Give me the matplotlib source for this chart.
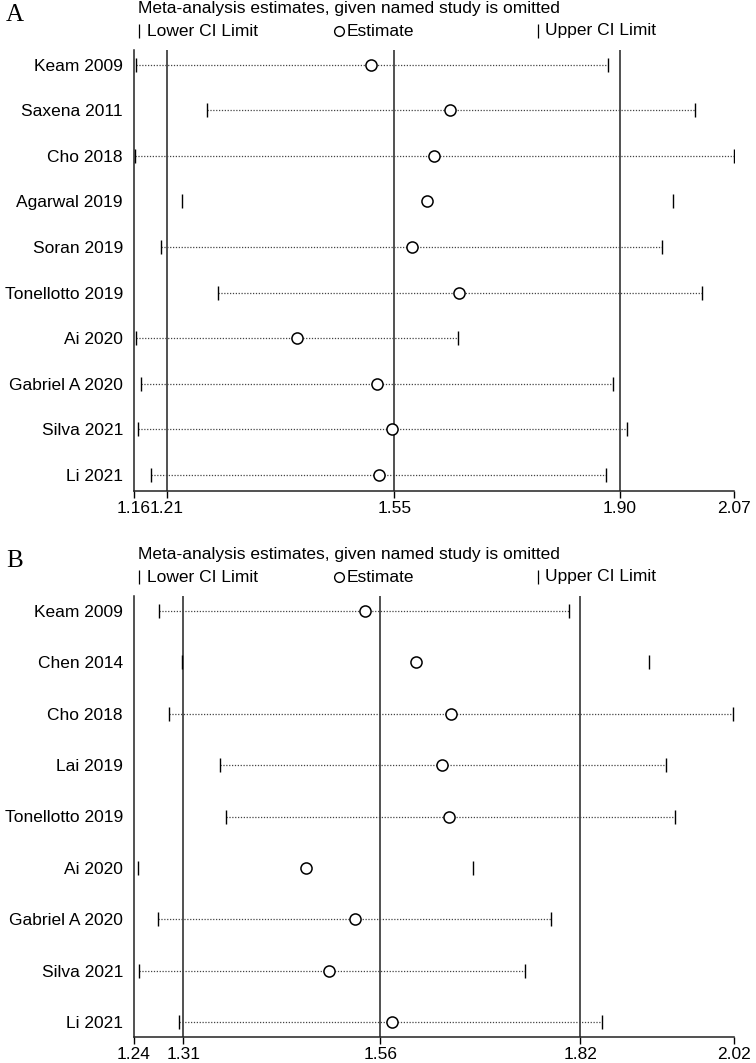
import matplotlib
matplotlib.use("Agg")
import matplotlib.pyplot as plt
from matplotlib.lines import Line2D

plt.rcParams['font.family'] = ['Liberation Sans', 'DejaVu Sans']

# panel A data
studies_a = ["Keam 2009", "Saxena 2011", "Cho 2018", "Agarwal 2019", "Soran 2019",
             "Tonellotto 2019", "Ai 2020", "Gabriel A 2020", "Silva 2021", "Li 2021"]
est_a = [1.519, 1.639, 1.615, 1.605, 1.581, 1.653, 1.407, 1.529, 1.552, 1.532]
low_a = [1.163, 1.270, 1.161, 1.233, 1.201, 1.287, 1.163, 1.170, 1.166, 1.186]
up_a = [1.879, 2.011, 2.070, 1.978, 1.961, 2.021, 1.652, 1.887, 1.907, 1.876]
dots_a = [True, True, True, False, True, True, True, True, True, True]
overall_a = [1.21, 1.555, 1.897]
range_a = [1.16, 2.07]
ticklabels_a = ["1.16", "1.21", "1.55", "1.90", "2.07"]

# panel B data
studies_b = ["Keam 2009", "Chen 2014", "Cho 2018", "Lai 2019", "Tonellotto 2019",
             "Ai 2020", "Gabriel A 2020", "Silva 2021", "Li 2021"]
est_b = [1.540, 1.606, 1.652, 1.640, 1.649, 1.463, 1.527, 1.494, 1.575]
low_b = [1.272, 1.302, 1.286, 1.352, 1.359, 1.245, 1.271, 1.247, 1.299]
up_b = [1.806, 1.909, 2.019, 1.931, 1.943, 1.681, 1.782, 1.748, 1.849]
dots_b = [True, False, True, True, True, False, True, True, True]
overall_b = [1.304, 1.56, 1.82]
range_b = [1.24, 2.02]
ticklabels_b = ["1.24", "1.31", "1.56", "1.82", "2.02"]

W, H = 756, 1063
fig = plt.figure(figsize=(W / 100, H / 100), dpi=100)
FS = 12.5


def fy(py):
    return 1 - py / H


def panel(letter, top_px, studies, est, low, up, dots, overall, xr, ticklabels,
          pad_top, pad_bot, ax_top, ax_bot):
    # header
    fig.text(6 / W, fy(top_px + 6), letter, family='Liberation Serif', fontsize=18,
             va='center', ha='left')
    fig.text(138 / W, fy(top_px), "Meta-analysis estimates, given named study is omitted",
             fontsize=FS, va='center', ha='left')
    ly = fy(top_px + 22)
    fig.add_artist(Line2D([139 / W], [ly], marker='|', markersize=10, color='black',
                          mew=0.9, transform=fig.transFigure))
    fig.text(147 / W, ly, "Lower CI Limit", fontsize=FS, va='center', ha='left')
    fig.add_artist(Line2D([339 / W], [ly], marker='o', markersize=7, mfc='none',
                          mec='black', mew=1, transform=fig.transFigure))
    fig.text(347 / W, ly, "Estimate", fontsize=FS, va='center', ha='left')
    fig.add_artist(Line2D([538 / W], [ly], marker='|', markersize=10, color='black',
                          mew=0.9, transform=fig.transFigure))
    fig.text(545 / W, ly, "Upper CI Limit", fontsize=FS, va='center', ha='left')

    ax = fig.add_axes([134 / W, fy(ax_bot), 600 / W, (ax_bot - ax_top) / H])
    n = len(studies)
    ys = list(range(1, n + 1))
    for i in range(n):
        y = ys[i]
        if dots[i]:
            ax.plot([low[i], up[i]], [y, y], color='#444444', lw=0.9,
                    linestyle=(0, (1, 1.3)), zorder=2)
        ax.plot([low[i], up[i]], [y, y], linestyle='none', marker='|', markersize=10,
                mew=1, color='black', zorder=3)
        ax.plot(est[i], y, marker='o', markersize=8, mfc='white', mec='black',
                mew=1.1, zorder=4)
    for v in overall:
        ax.axvline(v, color='#222222', lw=1.1, zorder=1)
    ax.set_xlim(xr)
    ax.set_ylim(n + pad_bot, 1 - pad_top)
    ax.set_yticks(ys)
    ax.set_yticklabels(studies, fontsize=FS)
    ax.tick_params(axis='y', length=0, pad=8)
    ax.set_xticks([xr[0]] + overall + [xr[1]])
    ax.set_xticklabels(ticklabels, fontsize=FS)
    ax.tick_params(axis='x', length=5, width=1, pad=2)
    for s in ['top', 'right']:
        ax.spines[s].set_visible(False)
    for s in ['left', 'bottom']:
        ax.spines[s].set_linewidth(1.1)
        ax.spines[s].set_color('#222222')
    return ax


panel("A", 9, studies_a, est_a, low_a, up_a, dots_a, overall_a, range_a, ticklabels_a,
      0.32, 0.35, 50, 491)
panel("B", 555, studies_b, est_b, low_b, up_b, dots_b, overall_b, range_b, ticklabels_b,
      0.29, 0.29, 596, 1037)

fig.savefig("out.png", dpi=100, facecolor='white')
